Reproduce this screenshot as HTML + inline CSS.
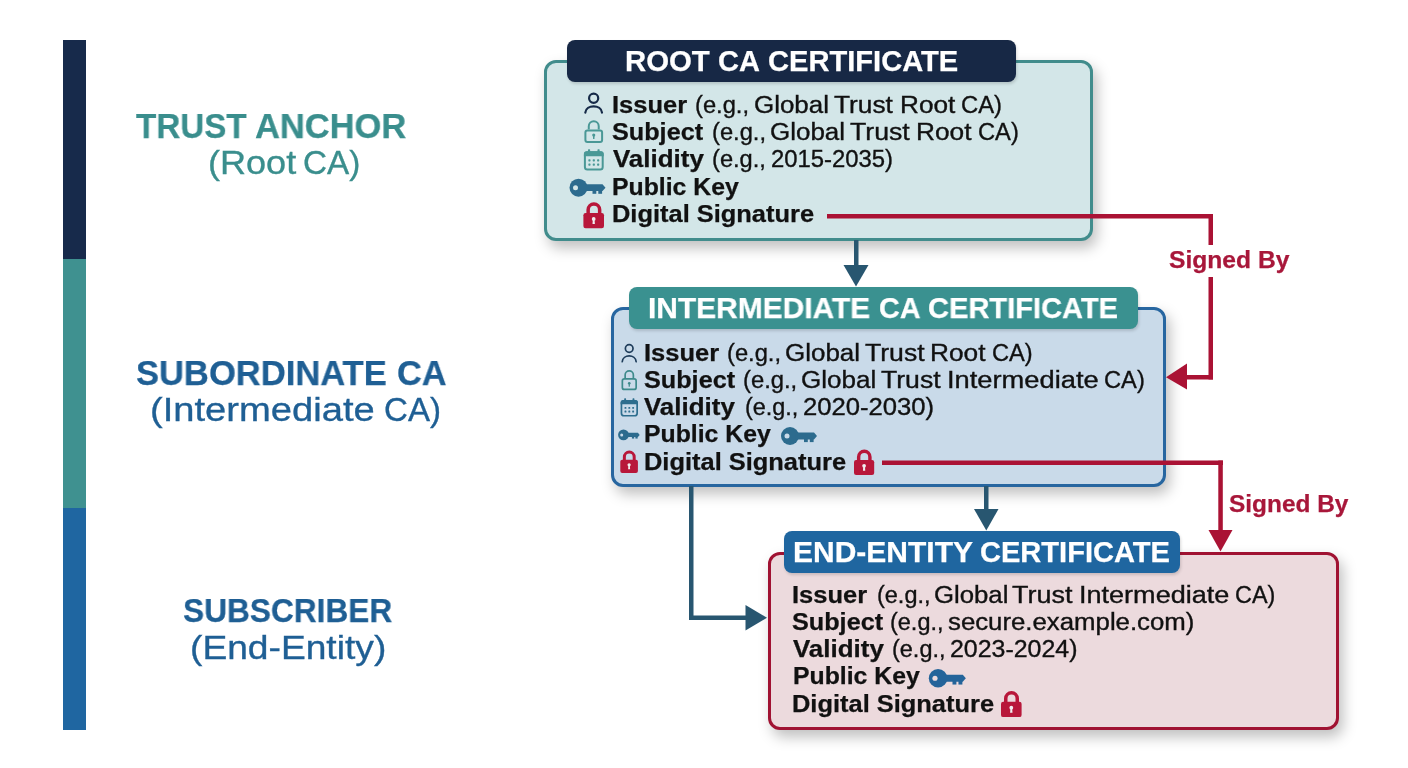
<!DOCTYPE html>
<html><head><meta charset="utf-8"><style>
html,body{margin:0;padding:0;background:#ffffff;}
body{width:1408px;height:768px;position:relative;overflow:hidden;font-family:"Liberation Sans", sans-serif;}
.t{position:absolute;line-height:1;white-space:nowrap;transform-origin:0 0;will-change:transform;}
.box{position:absolute;box-sizing:border-box;border:3.3px solid;border-radius:12px;box-shadow:4px 7px 14px rgba(0,0,0,0.25);}
.tab{position:absolute;border-radius:8px;box-shadow:1px 2px 3px rgba(0,0,0,0.15);}
</style></head><body>

<div style="position:absolute;left:63px;top:40px;width:23px;height:218.5px;background:#172a4b"></div>
<div style="position:absolute;left:63px;top:258.5px;width:23px;height:249px;background:#3f9190"></div>
<div style="position:absolute;left:63px;top:507.5px;width:23px;height:222px;background:#1f66a1"></div>

<!-- root box -->
<div class="box" style="left:544px;top:60px;width:548.5px;height:181px;background:#d3e6e8;border-color:#418c8c"></div>
<div class="tab" style="left:567px;top:40px;width:449px;height:42px;background:#172845"></div>

<!-- intermediate box -->
<div class="box" style="left:610.8px;top:307px;width:555.2px;height:179.5px;background:#c9dae9;border-color:#2766a0"></div>
<div class="tab" style="left:629px;top:287px;width:508.5px;height:41.5px;background:#3a9190"></div>

<!-- end entity box -->
<div class="box" style="left:767.5px;top:551.5px;width:571.5px;height:178px;background:#ecdadd;border-color:#a01232"></div>
<div class="tab" style="left:783.5px;top:531px;width:396px;height:41.5px;background:#1f66a0"></div>


<svg width="1408" height="768" style="position:absolute;left:0;top:0">
  <!-- blue arrows -->
  <g fill="#285670" stroke="none">
    <rect x="854" y="240" width="4.5" height="26"/>
    <polygon points="843.5,265 868.5,265 856,286.5"/>
    <rect x="984" y="486" width="4.5" height="24"/>
    <polygon points="974,509 998.5,509 986.3,530.5"/>
    <rect x="689" y="486" width="4.5" height="134"/>
    <rect x="689" y="615.5" width="58" height="4.5"/>
    <polygon points="745.5,605 745.5,630.5 767,617.8"/>
  </g>
  <!-- red connectors -->
  <g fill="#aa1234" stroke="none">
    <rect x="827" y="214" width="386" height="4.5"/>
    <rect x="1208.5" y="214" width="4.5" height="31"/>
    <rect x="1208.5" y="277" width="4.5" height="102.5"/>
    <rect x="1185" y="375" width="28" height="4.5"/>
    <polygon points="1166,377.2 1187,363.5 1187,389.5"/>
    <rect x="882" y="460.5" width="341" height="4.5"/>
    <rect x="1218.3" y="460.5" width="4.5" height="71"/>
    <polygon points="1208.5,530 1232.5,530 1220.5,551.5"/>
  </g>
  <circle cx="593.65" cy="98.27" r="4.57" fill="none" stroke="#162a48" stroke-width="2.2"/><path d="M585.30 112.70 C585.97 104.33 601.33 104.33 602.00 112.70" fill="none" stroke="#162a48" stroke-width="2.2" stroke-linecap="round"/><path d="M588.77 129.38 V126.28 A4.98 4.98 0 0 1 598.73 126.28 V129.38" fill="none" stroke="#4a9896" stroke-width="2.0"/><rect x="585.40" y="130.38" width="16.70" height="11.62" rx="2" fill="none" stroke="#4a9896" stroke-width="2.0"/><circle cx="593.75" cy="135.10" r="1.59" fill="#4a9896"/><rect x="593.00" y="135.10" width="1.50" height="3.86" fill="#4a9896"/><rect x="584.90" y="152.21" width="17.80" height="17.29" rx="2.5" fill="none" stroke="#4a9896" stroke-width="2.0"/><path d="M583.90 156.30 V153.71 Q583.90 151.21 586.40 151.21 H601.20 Q603.70 151.21 603.70 153.71 V156.30 Z" fill="#4a9896"/><rect x="587.96" y="149.30" width="2.18" height="4.24" rx="0.6" fill="#4a9896"/><rect x="597.46" y="149.30" width="2.18" height="4.24" rx="0.6" fill="#4a9896"/><rect x="588.35" y="159.34" width="2.18" height="2.18" rx="0.65" fill="#4a9896"/><rect x="592.71" y="159.34" width="2.18" height="2.18" rx="0.65" fill="#4a9896"/><rect x="597.07" y="159.34" width="2.18" height="2.18" rx="0.65" fill="#4a9896"/><rect x="588.35" y="163.58" width="2.18" height="2.18" rx="0.65" fill="#4a9896"/><rect x="592.71" y="163.58" width="2.18" height="2.18" rx="0.65" fill="#4a9896"/><rect x="597.07" y="163.58" width="2.18" height="2.18" rx="0.65" fill="#4a9896"/><g transform="translate(569.50 178.70) scale(1.000)"><circle cx="9" cy="9" r="9" fill="#2c6b8e"/><path d="M14.5 5.6 H33 L36 9 L33 12.4 H14.5 Z" fill="#2c6b8e"/><rect x="23" y="11.5" width="3.8" height="3.6" fill="#2c6b8e"/><rect x="28.8" y="11.5" width="3.8" height="3.6" fill="#2c6b8e"/><circle cx="6" cy="9" r="2.5" fill="#d3e6e8"/></g><g transform="translate(583.40 202.00) scale(1.000)"><path d="M4.75 12 V7.75 A5.75 5.75 0 0 1 16.25 7.75 V12" fill="none" stroke="#b8173a" stroke-width="3.5"/><rect x="0" y="11" width="20.6" height="15.3" rx="2.2" fill="#b8173a"/><circle cx="10.3" cy="16.9" r="1.9" fill="#f0eef0"/><path d="M9.5 17 H11.1 L11.5 22 H9.1 Z" fill="#f0eef0"/></g><circle cx="629.20" cy="348.48" r="3.83" fill="none" stroke="#1e3c5a" stroke-width="1.7"/><path d="M622.25 361.75 C622.81 353.99 635.59 353.99 636.15 361.75" fill="none" stroke="#1e3c5a" stroke-width="1.7" stroke-linecap="round"/><path d="M625.14 378.12 V374.96 A4.11 4.11 0 0 1 633.36 374.96 V378.12" fill="none" stroke="#3e8a8c" stroke-width="1.7"/><rect x="622.35" y="378.97" width="13.80" height="10.48" rx="2" fill="none" stroke="#3e8a8c" stroke-width="1.7"/><circle cx="629.25" cy="383.24" r="1.32" fill="#3e8a8c"/><rect x="628.63" y="383.24" width="1.24" height="3.45" fill="#3e8a8c"/><rect x="621.45" y="400.80" width="15.70" height="14.95" rx="2.5" fill="none" stroke="#2e6e8e" stroke-width="1.7"/><path d="M620.60 404.34 V402.45 Q620.60 399.95 623.10 399.95 H635.50 Q638.00 399.95 638.00 402.45 V404.34 Z" fill="#2e6e8e"/><rect x="624.17" y="398.30" width="1.91" height="3.66" rx="0.6" fill="#2e6e8e"/><rect x="632.52" y="398.30" width="1.91" height="3.66" rx="0.6" fill="#2e6e8e"/><rect x="624.51" y="406.95" width="1.91" height="1.91" rx="0.57" fill="#2e6e8e"/><rect x="628.34" y="406.95" width="1.91" height="1.91" rx="0.57" fill="#2e6e8e"/><rect x="632.17" y="406.95" width="1.91" height="1.91" rx="0.57" fill="#2e6e8e"/><rect x="624.51" y="410.61" width="1.91" height="1.91" rx="0.57" fill="#2e6e8e"/><rect x="628.34" y="410.61" width="1.91" height="1.91" rx="0.57" fill="#2e6e8e"/><rect x="632.17" y="410.61" width="1.91" height="1.91" rx="0.57" fill="#2e6e8e"/><g transform="translate(618.10 429.50) scale(0.600)"><circle cx="9" cy="9" r="9" fill="#2c6b8e"/><path d="M14.5 5.6 H33 L36 9 L33 12.4 H14.5 Z" fill="#2c6b8e"/><rect x="23" y="11.5" width="3.8" height="3.6" fill="#2c6b8e"/><rect x="28.8" y="11.5" width="3.8" height="3.6" fill="#2c6b8e"/><circle cx="6" cy="9" r="2.5" fill="#c9dae9"/></g><g transform="translate(781.00 427.00) scale(1.000)"><circle cx="9" cy="9" r="9" fill="#2c6b8e"/><path d="M14.5 5.6 H33 L36 9 L33 12.4 H14.5 Z" fill="#2c6b8e"/><rect x="23" y="11.5" width="3.8" height="3.6" fill="#2c6b8e"/><rect x="28.8" y="11.5" width="3.8" height="3.6" fill="#2c6b8e"/><circle cx="6" cy="9" r="2.5" fill="#c9dae9"/></g><g transform="translate(620.30 450.40) scale(0.855)"><path d="M4.75 12 V7.75 A5.75 5.75 0 0 1 16.25 7.75 V12" fill="none" stroke="#b8173a" stroke-width="3.5"/><rect x="0" y="11" width="20.6" height="15.3" rx="2.2" fill="#b8173a"/><circle cx="10.3" cy="16.9" r="1.9" fill="#f0eef0"/><path d="M9.5 17 H11.1 L11.5 22 H9.1 Z" fill="#f0eef0"/></g><g transform="translate(854.00 449.30) scale(0.980)"><path d="M4.75 12 V7.75 A5.75 5.75 0 0 1 16.25 7.75 V12" fill="none" stroke="#b8173a" stroke-width="3.5"/><rect x="0" y="11" width="20.6" height="15.3" rx="2.2" fill="#b8173a"/><circle cx="10.3" cy="16.9" r="1.9" fill="#f0eef0"/><path d="M9.5 17 H11.1 L11.5 22 H9.1 Z" fill="#f0eef0"/></g><g transform="translate(928.80 669.00) scale(1.030)"><circle cx="9" cy="9" r="9" fill="#24649a"/><path d="M14.5 5.6 H33 L36 9 L33 12.4 H14.5 Z" fill="#24649a"/><rect x="23" y="11.5" width="3.8" height="3.6" fill="#24649a"/><rect x="28.8" y="11.5" width="3.8" height="3.6" fill="#24649a"/><circle cx="6" cy="9" r="2.5" fill="#ecdadd"/></g><g transform="translate(1001.00 690.80) scale(1.000)"><path d="M4.75 12 V7.75 A5.75 5.75 0 0 1 16.25 7.75 V12" fill="none" stroke="#b8173a" stroke-width="3.5"/><rect x="0" y="11" width="20.6" height="15.3" rx="2.2" fill="#b8173a"/><circle cx="10.3" cy="16.9" r="1.9" fill="#f0eef0"/><path d="M9.5 17 H11.1 L11.5 22 H9.1 Z" fill="#f0eef0"/></g>
</svg>

<div class='t' style='left:136.00px;top:107.70px;font-weight:bold;font-size:35px;color:#3a8e8d;-webkit-text-stroke:0.25px #3a8e8d;transform:scaleX(0.9483)'>TRUST</div><div class='t' style='left:255.41px;top:107.70px;font-weight:bold;font-size:35px;color:#3a8e8d;-webkit-text-stroke:0.25px #3a8e8d;transform:scaleX(0.9854)'>ANCHOR</div><div class='t' style='left:207.62px;top:146.00px;font-weight:normal;font-size:33px;color:#3a8e8d;-webkit-text-stroke:0.35px #3a8e8d;transform:scaleX(1.0923)'>(Root</div><div class='t' style='left:303.18px;top:146.00px;font-weight:normal;font-size:33px;color:#3a8e8d;-webkit-text-stroke:0.35px #3a8e8d;transform:scaleX(1.0075)'>CA)</div><div class='t' style='left:136.01px;top:354.70px;font-weight:bold;font-size:35px;color:#1f5f94;-webkit-text-stroke:0.25px #1f5f94;transform:scaleX(0.9869)'>SUBORDINATE</div><div class='t' style='left:396.82px;top:354.70px;font-weight:bold;font-size:35px;color:#1f5f94;-webkit-text-stroke:0.25px #1f5f94;transform:scaleX(0.9812)'>CA</div><div class='t' style='left:150.49px;top:392.80px;font-weight:normal;font-size:33px;color:#1f5f94;-webkit-text-stroke:0.35px #1f5f94;transform:scaleX(1.1560)'>(Intermediate</div><div class='t' style='left:383.70px;top:392.80px;font-weight:normal;font-size:33px;color:#1f5f94;-webkit-text-stroke:0.35px #1f5f94;transform:scaleX(1.0019)'>CA)</div><div class='t' style='left:183.27px;top:593.30px;font-weight:bold;font-size:34px;color:#1f5f94;-webkit-text-stroke:0.25px #1f5f94;transform:scaleX(0.9309)'>SUBSCRIBER</div><div class='t' style='left:189.75px;top:630.70px;font-weight:normal;font-size:33px;color:#1f5f94;-webkit-text-stroke:0.35px #1f5f94;transform:scaleX(1.1265)'>(End-Entity)</div><div class='t' style='left:625.48px;top:47.40px;font-weight:bold;font-size:29px;color:#ffffff;-webkit-text-stroke:0.25px #ffffff;transform:scaleX(1.0123)'>ROOT</div><div class='t' style='left:718.40px;top:47.40px;font-weight:bold;font-size:29px;color:#ffffff;-webkit-text-stroke:0.25px #ffffff;transform:scaleX(0.9950)'>CA</div><div class='t' style='left:768.10px;top:47.40px;font-weight:bold;font-size:29px;color:#ffffff;-webkit-text-stroke:0.25px #ffffff;transform:scaleX(1.0037)'>CERTIFICATE</div><div class='t' style='left:648.21px;top:293.30px;font-weight:bold;font-size:30px;color:#ffffff;-webkit-text-stroke:0.25px #ffffff;transform:scaleX(0.9973)'>INTERMEDIATE</div><div class='t' style='left:879.14px;top:293.30px;font-weight:bold;font-size:30px;color:#ffffff;-webkit-text-stroke:0.25px #ffffff;transform:scaleX(0.9585)'>CA</div><div class='t' style='left:928.03px;top:293.30px;font-weight:bold;font-size:30px;color:#ffffff;-webkit-text-stroke:0.25px #ffffff;transform:scaleX(0.9691)'>CERTIFICATE</div><div class='t' style='left:792.83px;top:538.00px;font-weight:bold;font-size:29px;color:#ffffff;-webkit-text-stroke:0.25px #ffffff;transform:scaleX(1.0345)'>END-ENTITY</div><div class='t' style='left:980.40px;top:538.00px;font-weight:bold;font-size:29px;color:#ffffff;-webkit-text-stroke:0.25px #ffffff;transform:scaleX(1.0016)'>CERTIFICATE</div><div class='t' style='left:1168.97px;top:248.00px;font-weight:bold;font-size:24px;color:#a8173a;-webkit-text-stroke:0.25px #a8173a;transform:scaleX(1.0259)'>Signed By</div><div class='t' style='left:1228.98px;top:491.60px;font-weight:bold;font-size:24px;color:#a8173a;-webkit-text-stroke:0.25px #a8173a;transform:scaleX(1.0172)'>Signed By</div><div class='t' style='left:612.38px;top:93.60px;font-weight:bold;font-size:23px;color:#111111;-webkit-text-stroke:0.25px #111111;transform:scaleX(1.1077)'>Issuer</div><div class='t' style='left:695.27px;top:93.60px;font-weight:normal;font-size:23px;color:#111111;-webkit-text-stroke:0.35px #111111;transform:scaleX(1.0306)'>(e.g.,</div><div class='t' style='left:753.67px;top:93.60px;font-weight:normal;font-size:23px;color:#111111;-webkit-text-stroke:0.35px #111111;transform:scaleX(1.1266)'>Global</div><div class='t' style='left:834.46px;top:93.60px;font-weight:normal;font-size:23px;color:#111111;-webkit-text-stroke:0.35px #111111;transform:scaleX(1.1420)'>Trust</div><div class='t' style='left:900.02px;top:93.60px;font-weight:normal;font-size:23px;color:#111111;-webkit-text-stroke:0.35px #111111;transform:scaleX(1.1391)'>Root</div><div class='t' style='left:961.36px;top:93.60px;font-weight:normal;font-size:23px;color:#111111;-webkit-text-stroke:0.35px #111111;transform:scaleX(1.0351)'>CA)</div><div class='t' style='left:612.00px;top:120.95px;font-weight:bold;font-size:23px;color:#111111;-webkit-text-stroke:0.25px #111111;transform:scaleX(1.0963)'>Subject</div><div class='t' style='left:711.77px;top:120.95px;font-weight:normal;font-size:23px;color:#111111;-webkit-text-stroke:0.35px #111111;transform:scaleX(1.0306)'>(e.g.,</div><div class='t' style='left:769.87px;top:120.95px;font-weight:normal;font-size:23px;color:#111111;-webkit-text-stroke:0.35px #111111;transform:scaleX(1.1281)'>Global</div><div class='t' style='left:849.74px;top:120.95px;font-weight:normal;font-size:23px;color:#111111;-webkit-text-stroke:0.35px #111111;transform:scaleX(1.1600)'>Trust</div><div class='t' style='left:915.72px;top:120.95px;font-weight:normal;font-size:23px;color:#111111;-webkit-text-stroke:0.35px #111111;transform:scaleX(1.1413)'>Root</div><div class='t' style='left:977.87px;top:120.95px;font-weight:normal;font-size:23px;color:#111111;-webkit-text-stroke:0.35px #111111;transform:scaleX(1.0297)'>CA)</div><div class='t' style='left:612.60px;top:148.30px;font-weight:bold;font-size:23px;color:#111111;-webkit-text-stroke:0.25px #111111;transform:scaleX(1.1275)'>Validity</div><div class='t' style='left:712.47px;top:148.30px;font-weight:normal;font-size:23px;color:#111111;-webkit-text-stroke:0.35px #111111;transform:scaleX(1.0286)'>(e.g.,</div><div class='t' style='left:770.66px;top:148.30px;font-weight:normal;font-size:23px;color:#111111;-webkit-text-stroke:0.35px #111111;transform:scaleX(1.0374)'>2015-2035)</div><div class='t' style='left:612.44px;top:175.65px;font-weight:bold;font-size:23px;color:#111111;-webkit-text-stroke:0.25px #111111;transform:scaleX(1.0783)'>Public Key</div><div class='t' style='left:612.39px;top:203.00px;font-weight:bold;font-size:23px;color:#111111;-webkit-text-stroke:0.25px #111111;transform:scaleX(1.1056)'>Digital Signature</div><div class='t' style='left:644.18px;top:341.50px;font-weight:bold;font-size:23px;color:#111111;-webkit-text-stroke:0.25px #111111;transform:scaleX(1.1077)'>Issuer</div><div class='t' style='left:726.67px;top:341.50px;font-weight:normal;font-size:23px;color:#111111;-webkit-text-stroke:0.35px #111111;transform:scaleX(1.0306)'>(e.g.,</div><div class='t' style='left:784.67px;top:341.50px;font-weight:normal;font-size:23px;color:#111111;-webkit-text-stroke:0.35px #111111;transform:scaleX(1.1281)'>Global</div><div class='t' style='left:864.54px;top:341.50px;font-weight:normal;font-size:23px;color:#111111;-webkit-text-stroke:0.35px #111111;transform:scaleX(1.1560)'>Trust</div><div class='t' style='left:930.22px;top:341.50px;font-weight:normal;font-size:23px;color:#111111;-webkit-text-stroke:0.35px #111111;transform:scaleX(1.1413)'>Root</div><div class='t' style='left:992.47px;top:341.50px;font-weight:normal;font-size:23px;color:#111111;-webkit-text-stroke:0.35px #111111;transform:scaleX(1.0270)'>CA)</div><div class='t' style='left:643.80px;top:368.80px;font-weight:bold;font-size:23px;color:#111111;-webkit-text-stroke:0.25px #111111;transform:scaleX(1.0963)'>Subject</div><div class='t' style='left:742.67px;top:368.80px;font-weight:normal;font-size:23px;color:#111111;-webkit-text-stroke:0.35px #111111;transform:scaleX(1.0347)'>(e.g.,</div><div class='t' style='left:801.47px;top:368.80px;font-weight:normal;font-size:23px;color:#111111;-webkit-text-stroke:0.35px #111111;transform:scaleX(1.1312)'>Global</div><div class='t' style='left:880.84px;top:368.80px;font-weight:normal;font-size:23px;color:#111111;-webkit-text-stroke:0.35px #111111;transform:scaleX(1.1560)'>Trust</div><div class='t' style='left:947.33px;top:368.80px;font-weight:normal;font-size:23px;color:#111111;-webkit-text-stroke:0.35px #111111;transform:scaleX(1.1864)'>Intermediate</div><div class='t' style='left:1104.47px;top:368.80px;font-weight:normal;font-size:23px;color:#111111;-webkit-text-stroke:0.35px #111111;transform:scaleX(1.0297)'>CA)</div><div class='t' style='left:644.40px;top:396.10px;font-weight:bold;font-size:23px;color:#111111;-webkit-text-stroke:0.25px #111111;transform:scaleX(1.1275)'>Validity</div><div class='t' style='left:744.68px;top:396.10px;font-weight:normal;font-size:23px;color:#111111;-webkit-text-stroke:0.35px #111111;transform:scaleX(1.0184)'>(e.g.,</div><div class='t' style='left:802.69px;top:396.10px;font-weight:normal;font-size:23px;color:#111111;-webkit-text-stroke:0.35px #111111;transform:scaleX(1.1148)'>2020-2030)</div><div class='t' style='left:644.24px;top:423.40px;font-weight:bold;font-size:23px;color:#111111;-webkit-text-stroke:0.25px #111111;transform:scaleX(1.0783)'>Public Key</div><div class='t' style='left:644.19px;top:450.70px;font-weight:bold;font-size:23px;color:#111111;-webkit-text-stroke:0.25px #111111;transform:scaleX(1.1056)'>Digital Signature</div><div class='t' style='left:792.48px;top:583.50px;font-weight:bold;font-size:23px;color:#111111;-webkit-text-stroke:0.25px #111111;transform:scaleX(1.1077)'>Issuer</div><div class='t' style='left:876.88px;top:583.50px;font-weight:normal;font-size:23px;color:#111111;-webkit-text-stroke:0.35px #111111;transform:scaleX(1.0204)'>(e.g.,</div><div class='t' style='left:934.18px;top:583.50px;font-weight:normal;font-size:23px;color:#111111;-webkit-text-stroke:0.35px #111111;transform:scaleX(1.1188)'>Global</div><div class='t' style='left:1012.43px;top:583.50px;font-weight:normal;font-size:23px;color:#111111;-webkit-text-stroke:0.35px #111111;transform:scaleX(1.1720)'>Trust</div><div class='t' style='left:1078.85px;top:583.50px;font-weight:normal;font-size:23px;color:#111111;-webkit-text-stroke:0.35px #111111;transform:scaleX(1.1760)'>Intermediate</div><div class='t' style='left:1235.38px;top:583.50px;font-weight:normal;font-size:23px;color:#111111;-webkit-text-stroke:0.35px #111111;transform:scaleX(1.0162)'>CA)</div><div class='t' style='left:792.10px;top:610.80px;font-weight:bold;font-size:23px;color:#111111;-webkit-text-stroke:0.25px #111111;transform:scaleX(1.0963)'>Subject</div><div class='t' style='left:890.38px;top:610.80px;font-weight:normal;font-size:23px;color:#111111;-webkit-text-stroke:0.35px #111111;transform:scaleX(1.0204)'>(e.g.,</div><div class='t' style='left:948.18px;top:610.80px;font-weight:normal;font-size:23px;color:#111111;-webkit-text-stroke:0.35px #111111;transform:scaleX(1.1207)'>secure.example.com)</div><div class='t' style='left:792.70px;top:638.10px;font-weight:bold;font-size:23px;color:#111111;-webkit-text-stroke:0.25px #111111;transform:scaleX(1.1275)'>Validity</div><div class='t' style='left:892.38px;top:638.10px;font-weight:normal;font-size:23px;color:#111111;-webkit-text-stroke:0.35px #111111;transform:scaleX(1.0204)'>(e.g.,</div><div class='t' style='left:949.72px;top:638.10px;font-weight:normal;font-size:23px;color:#111111;-webkit-text-stroke:0.35px #111111;transform:scaleX(1.0835)'>2023-2024)</div><div class='t' style='left:792.54px;top:665.40px;font-weight:bold;font-size:23px;color:#111111;-webkit-text-stroke:0.25px #111111;transform:scaleX(1.0783)'>Public Key</div><div class='t' style='left:792.49px;top:692.70px;font-weight:bold;font-size:23px;color:#111111;-webkit-text-stroke:0.25px #111111;transform:scaleX(1.1056)'>Digital Signature</div>
</body></html>
